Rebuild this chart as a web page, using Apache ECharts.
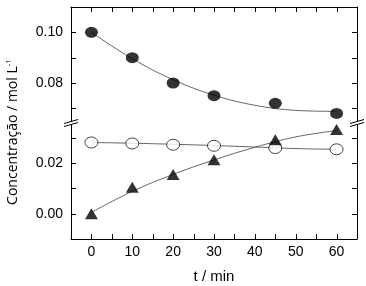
<!DOCTYPE html>
<html>
<head>
<meta charset="utf-8">
<script src="https://cdn.jsdelivr.net/npm/echarts@6/dist/echarts.min.js"></script>
<style>
html, body { margin: 0; padding: 0; background: #fff; }
#chart { width: 366px; height: 286px; }
</style>
</head>
<body>
<div id="chart"></div>
<script>
// dados
var tempos = [0, 10, 20, 30, 45, 60];
var cheios = [0.100, 0.090, 0.080, 0.075, 0.072, 0.068];
var vazios = [0.0281, 0.0277, 0.0272, 0.0268, 0.0259, 0.0254];
var triang = [0.000, 0.0104, 0.0155, 0.0213, 0.0292, 0.0332];

// curvas de ajuste
var tAjuste = [0, 10, 20, 30, 40, 50, 60];
var ajusteCheios = [0.1000, 0.0896, 0.0813, 0.0752, 0.0712, 0.0692, 0.0688];
var ajusteVazios = [0.0281, 0.0278, 0.0274, 0.0269, 0.0263, 0.0257, 0.0254];
var ajusteTriang = [0.0005, 0.0088, 0.0155, 0.0212, 0.0262, 0.0303, 0.0328];

var xTicks = [0, 5, 10, 15, 20, 25, 30, 35, 40, 45, 50, 55, 60];
var xLabels = [0, 10, 20, 30, 40, 50, 60];
var yTicksSup = [0.07, 0.08, 0.09, 0.10];
var yLabelsSup = [0.08, 0.10];
var yTicksInf = [0.00, 0.01, 0.02, 0.03];
var yLabelsInf = [0.00, 0.02];

function pares(xs, ys) {
	var out = [];
	for (var i = 0; i < xs.length; i++) out.push([xs[i], ys[i]]);
	return out;
}

var fonte = '"Liberation Sans", Arial, sans-serif';
var L = 71, R = 357, T = 7, B = 239;
var T2 = 125, H1 = 114;
var yQuebra = 123;
var tick = 5;
var xMin = -5, xMax = 65;
var supMin = 0.065, supMax = 0.11, infMin = -0.01, infMax = 0.035;

function eixoY(idx, pos, labels, min, max, mostra) {
	return {
		type: 'value', gridIndex: idx, position: pos, min: min, max: max,
		splitLine: { show: false },
		axisLine: { show: true, onZero: false, lineStyle: { color: '#000', width: 1 } },
		axisTick: { show: false },
		axisLabel: { show: mostra, customValues: labels, margin: 8, color: '#000', fontSize: 14, fontFamily: fonte,
			formatter: function(v) { return v.toFixed(2); } }
	};
}

var chart = echarts.init(document.getElementById('chart'), null, { renderer: 'canvas' });

var linhaAjuste = { color: '#555', width: 0.9 };

chart.setOption({
	animation: false,
	backgroundColor: '#fff',
	grid: [
		{ left: L, right: 366 - R, top: T, height: H1 },
		{ left: L, right: 366 - R, top: T2, height: B - T2 }
	],
	xAxis: [{
		type: 'value', gridIndex: 0, position: 'top', min: xMin, max: xMax,
		splitLine: { show: false },
		axisLine: { show: true, onZero: false, lineStyle: { color: '#000', width: 1 } },
		axisTick: { show: false },
		axisLabel: { show: false }
	}, {
		type: 'value', gridIndex: 1, position: 'bottom', min: xMin, max: xMax,
		splitLine: { show: false },
		axisLine: { show: true, onZero: false, lineStyle: { color: '#000', width: 1 } },
		axisTick: { show: false },
		axisLabel: { customValues: xLabels, margin: 6, color: '#000', fontSize: 14, fontFamily: fonte },
		name: 't / min', nameLocation: 'middle', nameGap: 30,
		nameTextStyle: { color: '#000', fontSize: 15, fontFamily: fonte }
	}],
	yAxis: [
		eixoY(0, 'left', yLabelsSup, supMin, supMax, true),
		eixoY(0, 'right', yLabelsSup, supMin, supMax, false),
		eixoY(1, 'left', yLabelsInf, infMin, infMax, true),
		eixoY(1, 'right', yLabelsInf, infMin, infMax, false)
	],
	series: [
		{ type: 'line', xAxisIndex: 0, yAxisIndex: 0, data: pares(tAjuste, ajusteCheios), smooth: 0.4,
			showSymbol: false, lineStyle: linhaAjuste, z: 1 },
		{ type: 'line', xAxisIndex: 1, yAxisIndex: 2, data: pares(tAjuste, ajusteVazios), smooth: 0.4,
			showSymbol: false, lineStyle: linhaAjuste, z: 1 },
		{ type: 'line', xAxisIndex: 1, yAxisIndex: 2, data: pares(tAjuste, ajusteTriang), smooth: 0.4,
			showSymbol: false, lineStyle: linhaAjuste, z: 1 },
		{ type: 'scatter', xAxisIndex: 0, yAxisIndex: 0, data: pares(tempos, cheios), symbol: 'circle',
			symbolSize: [13, 11], itemStyle: { color: '#000' }, z: 3 },
		{ type: 'scatter', xAxisIndex: 1, yAxisIndex: 2, data: pares(tempos, vazios), symbol: 'circle',
			symbolSize: [13, 11], itemStyle: { color: '#fff', borderColor: '#000', borderWidth: 0.9 }, z: 3 },
		{ type: 'scatter', xAxisIndex: 1, yAxisIndex: 2, data: pares(tempos, triang), symbol: 'triangle',
			symbolSize: [13, 11], itemStyle: { color: '#000' }, z: 3 }
	]
});

// posicao em pixel pela escala do grafico, com reserva linear
function px(grid, v, eixo) {
	var p = null;
	try {
		p = chart.convertToPixel({ gridIndex: grid }, eixo === 'x' ? [v, grid === 0 ? supMin : infMin] : [xMin, v]);
	} catch (e) { p = null; }
	var r = p && (eixo === 'x' ? p[0] : p[1]);
	if (typeof r === 'number' && isFinite(r)) return r;
	if (eixo === 'x') return L + (v - xMin) / (xMax - xMin) * (R - L);
	if (grid === 0) return T + (supMax - v) / (supMax - supMin) * H1;
	return T2 + (infMax - v) / (infMax - infMin) * (B - T2);
}

// marcas de escala (para dentro, nos quatro lados) e quebra do eixo
var graf = [];
function traco(x1, y1, x2, y2) {
	graf.push({ type: 'line', silent: true, z: 100,
		shape: { x1: x1, y1: y1, x2: x2, y2: y2 },
		style: { stroke: '#000', lineWidth: 1 } });
}
xTicks.forEach(function(v) {
	var x = Math.round(px(1, v, 'x')) + 0.5;
	traco(x, T, x, T + tick);
	traco(x, B, x, B - tick);
});
yTicksSup.forEach(function(v) {
	var y = Math.round(px(0, v, 'y')) + 0.5;
	traco(L, y, L + tick, y);
	traco(R, y, R - tick, y);
});
yTicksInf.forEach(function(v) {
	var y = Math.round(px(1, v, 'y')) + 0.5;
	traco(L, y, L + tick, y);
	traco(R, y, R - tick, y);
});
[L, R].forEach(function(x) {
	traco(x - 7, yQuebra + 0.5, x + 7, yQuebra - 3.5);
	traco(x - 7, yQuebra + 3.5, x + 7, yQuebra - 0.5);
});
graf.push({
	type: 'text', x: 13, y: 132, rotation: Math.PI / 2,
	style: {
		text: '{a|Concentração / mol L}{s|-1}',
		align: 'center', verticalAlign: 'middle',
		rich: {
			a: { fontSize: 14, fontFamily: '"Open Sans", sans-serif', fill: '#000', lineHeight: 16 },
			s: { fontSize: 8, fontFamily: '"Open Sans", sans-serif', fill: '#000', verticalAlign: 'top', lineHeight: 16, padding: [0, 0, 6, 0] }
		}
	}
});
chart.setOption({ graphic: graf });
</script>
</body>
</html>
